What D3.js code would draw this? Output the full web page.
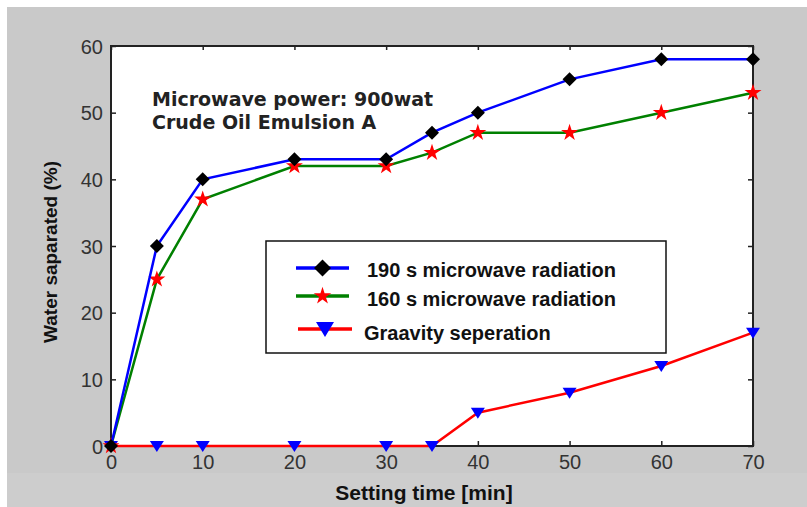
<!DOCTYPE html>
<html><head><meta charset="utf-8">
<script src="https://cdn.jsdelivr.net/npm/d3@7"></script>
<style>body{margin:0;background:#fff}svg{display:block}</style>
</head><body>
<svg id="c" width="807" height="507"></svg>
<script>
const times = [0, 5, 10, 20, 30, 35, 40, 50, 60, 70];
const mw190 = [0, 30, 40, 43, 43, 47, 50, 55, 58, 58];
const mw160 = [0, 25, 37, 42, 42, 44, 47, 47, 50, 53];
const gravity = [0, 0, 0, 0, 0, 0, 5, 8, 12, 17];
const xTicks = [0, 10, 20, 30, 40, 50, 60, 70];
const yTicks = [0, 10, 20, 30, 40, 50, 60];
const seriesNames = ["190 s microwave radiation", "160 s microwave radiation", "Graavity seperation"];
const annotation = ["Microwave power: 900wat", "Crude Oil Emulsion A"];

const svg = d3.select("#c");
svg.append("rect").attr("x",7).attr("y",7).attr("width",800).attr("height",500).attr("fill","#c9c9c9");
svg.append("rect").attr("x",7).attr("y",473).attr("width",800).attr("height",34).attr("fill","#cdcdcd");

const L=111, R=753, T=46, B=446;
const x = d3.scaleLinear().domain([0,70]).range([L,R]);
const y = d3.scaleLinear().domain([0,60]).range([B,T]);

svg.append("rect").attr("x",L).attr("y",T).attr("width",R-L).attr("height",B-T).attr("fill","#fff");

const tickFont = "'Liberation Sans',Arial,sans-serif";
const ax = svg.append("g");
function styleAxis(g){
  g.select(".domain").remove();
  g.selectAll("line").attr("stroke","#222").attr("stroke-width",1.5);
  g.selectAll("text").attr("fill","#333").style("font-family",tickFont).style("font-size","20px");
}
const gb = ax.append("g").attr("transform",`translate(0,${B})`)
  .call(d3.axisBottom(x).tickValues(xTicks).tickSize(-5).tickPadding(9));
styleAxis(gb);
const gt = ax.append("g").attr("transform",`translate(0,${T})`)
  .call(d3.axisTop(x).tickValues(xTicks).tickSize(-4).tickFormat(""));
styleAxis(gt);
const gl = ax.append("g").attr("transform",`translate(${L},0)`)
  .call(d3.axisLeft(y).tickValues(yTicks).tickSize(-5).tickPadding(8));
styleAxis(gl);
gl.selectAll("text").attr("dy","0.36em");
const gr = ax.append("g").attr("transform",`translate(${R},0)`)
  .call(d3.axisRight(y).tickValues(yTicks).tickSize(-5).tickFormat(""));
styleAxis(gr);

svg.append("rect").attr("x",L).attr("y",T).attr("width",R-L).attr("height",B-T)
  .attr("fill","none").attr("stroke","#222").attr("stroke-width",2);

// annotation
const ann = svg.append("g");
annotation.forEach((t,i)=>{
  ann.append("text").attr("x",152).attr("y",106+i*23).text(t)
    .style("font-family","'DejaVu Sans',sans-serif").style("font-weight","bold")
    .style("font-size","19px").attr("fill","#222");
});

// series
const series = [
  {name:seriesNames[0], vals:mw190, line:"#0000ff", mark:"diamond", mcol:"#000"},
  {name:seriesNames[1], vals:mw160, line:"#008000", mark:"star", mcol:"#ff0000"},
  {name:seriesNames[2], vals:gravity, line:"#ff0000", mark:"tri", mcol:"#0000ff"}
];
const symbolPath = {
  diamond: "M0,-7L7,0L0,7L-7,0Z",
  star: d3.symbol(d3.symbolStar, 90)(),
  tri: "M-7,-5L7,-5L0,6Z"
};
const legendPath = {
  diamond: "M0,-8.5L8.5,0L0,8.5L-8.5,0Z",
  star: d3.symbol(d3.symbolStar, 95)(),
  tri: "M-9,-7L9,-7L0,8Z"
};
const lineGen = d3.line().x((d,i)=>x(times[i])).y(d=>y(d));
const plot = svg.append("g");
series.slice().reverse().forEach(s=>{
  plot.append("path").attr("d",lineGen(s.vals)).attr("fill","none")
    .attr("stroke",s.line).attr("stroke-width",2.5);
  plot.selectAll(null).data(s.vals).enter().append("path")
    .attr("d",symbolPath[s.mark])
    .attr("transform",(d,i)=>`translate(${x(times[i])},${y(d)})`)
    .attr("fill",s.mcol);
});

// legend
const lg = svg.append("g");
lg.append("rect").attr("x",266).attr("y",241).attr("width",400).attr("height",112)
  .attr("fill","#fff").attr("stroke","#111").attr("stroke-width",1.5);
const rowsY = [268, 296, 329];
const textBase = [277, 306, 340];
const textX = [367, 367, 364];
const lineX = [[296,349],[296,349],[298,352]];
series.forEach((s,i)=>{
  const yy = rowsY[i];
  lg.append("line").attr("x1",lineX[i][0]).attr("x2",lineX[i][1]).attr("y1",yy).attr("y2",yy)
    .attr("stroke",s.line).attr("stroke-width",3.5);
  lg.append("path").attr("d",legendPath[s.mark])
    .attr("transform",`translate(${(lineX[i][0]+lineX[i][1])/2},${yy})`).attr("fill",s.mcol);
  lg.append("text").attr("x",textX[i]).attr("y",textBase[i]).text(s.name)
    .style("font-family","'Liberation Sans',Arial,sans-serif").style("font-weight","bold")
    .style("font-size","20px").attr("fill","#111");
});

// axis titles
svg.append("text").attr("x",424).attr("y",500).attr("text-anchor","middle")
  .text("Setting time [min]").style("font-family",tickFont).style("font-weight","bold")
  .style("font-size","21px").attr("fill","#111");
svg.append("text").attr("transform","translate(57,252) rotate(-90)").attr("text-anchor","middle")
  .text("Water saparated (%)").style("font-family",tickFont).style("font-weight","bold")
  .style("font-size","19px").attr("fill","#111");
</script>
</body></html>
